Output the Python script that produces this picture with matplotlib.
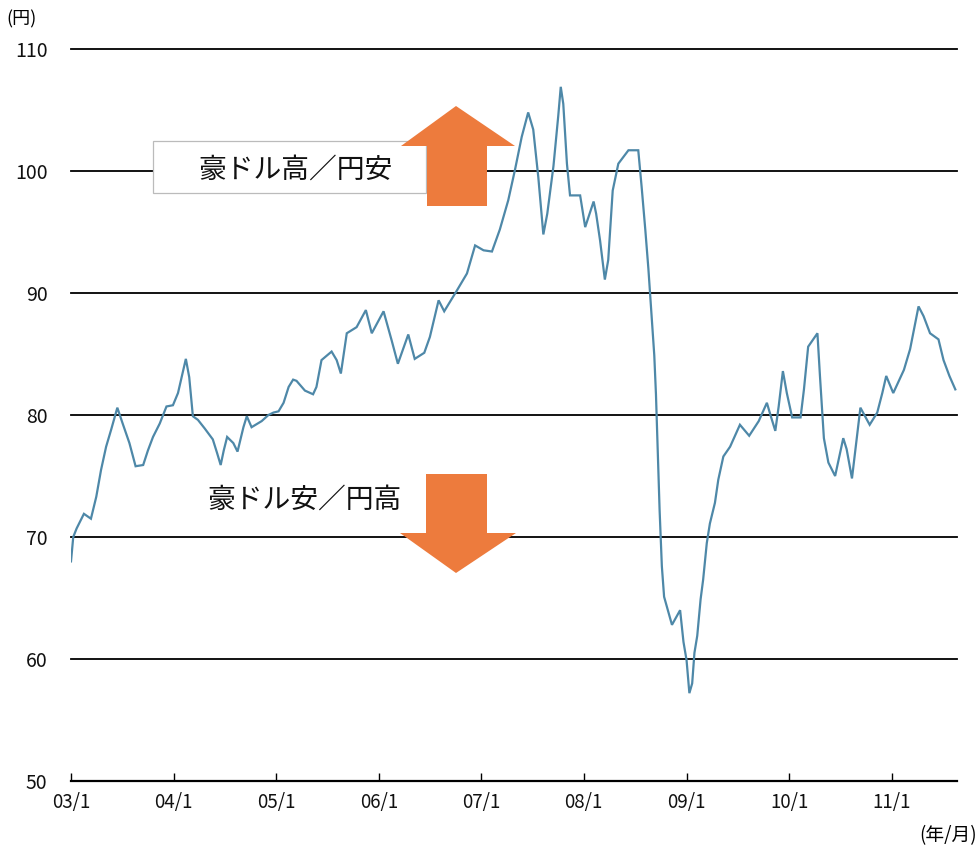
import matplotlib
matplotlib.use("Agg")
import matplotlib.pyplot as plt
import matplotlib.dates as mdates
from matplotlib.patches import Polygon, Rectangle
from matplotlib.ticker import FuncFormatter
import pandas as pd

plt.rcParams['font.family'] = ['Noto Sans CJK JP', 'DejaVu Sans']

# AUD/JPY exchange rate (yen per Australian dollar)
dates = [
    "2003-01-01", "2003-01-09", "2003-01-21", "2003-02-16", "2003-03-13", "2003-04-01",
    "2003-04-18", "2003-05-06", "2003-05-24", "2003-06-15", "2003-07-04", "2003-07-28",
    "2003-08-19", "2003-09-15", "2003-10-02", "2003-10-20", "2003-11-13", "2003-12-07",
    "2003-12-30", "2004-01-17", "2004-01-30", "2004-02-14", "2004-02-26", "2004-03-10",
    "2004-03-28", "2004-04-21", "2004-05-20", "2004-06-04", "2004-06-17", "2004-06-28",
    "2004-07-10", "2004-08-01", "2004-08-16", "2004-09-06", "2004-09-18", "2004-10-05",
    "2004-11-10", "2004-12-04", "2004-12-22", "2005-01-09", "2005-01-27", "2005-02-14",
    "2005-03-02", "2005-03-14", "2005-04-13", "2005-05-12", "2005-05-24", "2005-06-11",
    "2005-07-17", "2005-08-04", "2005-08-19", "2005-09-09", "2005-10-14", "2005-11-16",
    "2005-12-07", "2006-01-18", "2006-02-16", "2006-03-10", "2006-04-16", "2006-05-09",
    "2006-06-12", "2006-07-02", "2006-08-02", "2006-08-22", "2006-10-06", "2006-11-11",
    "2006-12-10", "2007-01-09", "2007-02-08", "2007-03-08", "2007-04-07", "2007-05-01",
    "2007-05-25", "2007-06-17", "2007-07-05", "2007-07-23", "2007-08-10", "2007-08-24",
    "2007-09-15", "2007-10-02", "2007-10-11", "2007-10-20", "2007-11-02", "2007-11-13",
    "2007-12-19", "2008-01-06", "2008-02-05", "2008-02-14", "2008-02-28", "2008-03-16",
    "2008-03-28", "2008-04-13", "2008-05-03", "2008-06-08", "2008-07-13", "2008-07-25",
    "2008-08-07", "2008-08-18", "2008-08-24", "2008-09-01", "2008-09-08", "2008-09-14",
    "2008-09-20", "2008-09-27", "2008-10-05", "2008-10-13", "2008-11-10", "2008-12-09",
    "2008-12-21", "2009-01-01", "2009-01-11", "2009-01-21", "2009-01-29", "2009-02-08",
    "2009-02-20", "2009-03-01", "2009-03-14", "2009-03-25", "2009-04-12", "2009-04-24",
    "2009-05-12", "2009-06-05", "2009-07-10", "2009-08-12", "2009-09-15", "2009-10-14",
    "2009-10-28", "2009-11-13", "2009-11-25", "2009-12-10", "2009-12-24", "2010-01-12",
    "2010-02-11", "2010-02-23", "2010-03-10", "2010-04-12", "2010-04-21", "2010-05-05",
    "2010-05-21", "2010-06-14", "2010-07-13", "2010-07-25", "2010-08-13", "2010-09-01",
    "2010-09-12", "2010-10-15", "2010-11-11", "2010-11-29", "2010-12-13", "2011-01-07",
    "2011-02-14", "2011-03-08", "2011-03-26", "2011-04-07", "2011-04-25", "2011-05-18",
    "2011-06-17", "2011-07-05", "2011-07-26", "2011-08-16",
]
rates = [
    68.0, 70.0, 70.7, 71.9, 71.5, 73.3,
    75.5, 77.4, 78.8, 80.6, 79.3, 77.7,
    75.8, 75.9, 77.1, 78.2, 79.3, 80.7,
    80.8, 81.8, 83.1, 84.6, 83.1, 79.9,
    79.6, 78.9, 78.0, 76.9, 75.9, 77.1,
    78.2, 77.7, 77.0, 79.0, 79.9, 79.0,
    79.5, 80.0, 80.2, 80.3, 81.0, 82.3,
    82.9, 82.8, 82.0, 81.7, 82.3, 84.5,
    85.2, 84.5, 83.4, 86.7, 87.2, 88.6,
    86.7, 88.5, 86.1, 84.2, 86.6, 84.6,
    85.1, 86.4, 89.4, 88.5, 90.2, 91.6,
    93.9, 93.5, 93.4, 95.2, 97.6, 100.1,
    102.8, 104.8, 103.4, 99.5, 94.8, 96.5,
    100.4, 104.5, 106.9, 105.5, 100.6, 98.0,
    98.0, 95.4, 97.5, 96.5, 94.3, 91.1,
    92.7, 98.4, 100.6, 101.7, 101.7, 98.7,
    95.2, 92.0, 90.0, 87.4, 84.9, 81.7,
    77.2, 72.2, 67.6, 65.1, 62.8, 64.0,
    61.4, 59.9, 57.2, 58.0, 60.5, 61.9,
    64.9, 66.5, 69.5, 71.1, 72.8, 74.7,
    76.6, 77.4, 79.2, 78.3, 79.5, 81.0,
    79.9, 78.7, 80.7, 83.6, 81.8, 79.8,
    79.8, 82.1, 85.6, 86.7, 83.2, 78.1,
    76.1, 75.0, 78.1, 77.2, 74.8, 78.5,
    80.6, 79.2, 80.2, 81.8, 83.2, 81.8,
    83.7, 85.4, 87.5, 88.9, 88.1, 86.7,
    86.2, 84.5, 83.2, 82.1,
]

year_ticks = [f"{y}-01-01" for y in range(2003, 2012)]
y_ticks = [50, 60, 70, 80, 90, 100, 110]

up_label = "豪ドル高／円安"
down_label = "豪ドル安／円高"

W, H = 979, 850
fig = plt.figure(figsize=(W / 100, H / 100), dpi=100)
ax = fig.add_axes([71 / W, 1 - 781 / H, (957 - 71) / W, (781 - 49) / H])

x = pd.to_datetime(dates)
ax.plot(x, rates, color="#4E88A8", lw=1.6, zorder=3, solid_joinstyle="miter")

ax.set_ylim(50, 110)
ax.set_xlim(pd.Timestamp("2003-01-01"), pd.Timestamp("2011-08-22"))

# horizontal reference lines
for v in y_ticks[1:]:
    ax.axhline(v, color="black", lw=1.3, zorder=1, clip_on=False)

ax.set_yticks(y_ticks)
ax.tick_params(axis="y", length=0, pad=17, labelsize=14, labelcolor="#111111")

ax.set_xticks(pd.to_datetime(year_ticks))
ax.xaxis.set_major_formatter(FuncFormatter(
    lambda v, p: f"{mdates.num2date(v).year % 100:02d}/{mdates.num2date(v).month}"))
ax.tick_params(axis="x", direction="in", length=6, width=1.0, pad=8,
               labelsize=13.5, labelcolor="#111111")

for s in ("left", "right", "top"):
    ax.spines[s].set_visible(False)
ax.spines["bottom"].set_linewidth(1.6)
ax.spines["bottom"].set_zorder(4)

fig.text(6 / W, 1 - 19 / H, "(円)", fontsize=13, va="center", ha="left")
fig.text(977 / W, 1 - 836 / H, "(年/月)", fontsize=13.5, va="center", ha="right")

# annotation box with arrows, placed in figure pixel space
def px(pts):
    return [(a / W, 1 - b / H) for a, b in pts]

fig.patches.append(Rectangle((153 / W, 1 - 193 / H), (426 - 153) / W, (193 - 141) / H,
                             transform=fig.transFigure, facecolor="white",
                             edgecolor="#BBBBBB", lw=0.9, zorder=5))
fig.text(296 / W, 1 - 170 / H, up_label, fontsize=20, ha="center", va="center",
         color="#111111", zorder=6)
fig.text(305 / W, 1 - 500 / H, down_label, fontsize=20, ha="center", va="center",
         color="#111111", zorder=6)

orange = "#ED7B3D"
up_arrow = px([(427, 206), (427, 146), (401, 146), (456, 106), (515, 146),
               (487, 146), (487, 206)])
down_arrow = px([(426, 474), (487, 474), (487, 533), (516, 533), (456, 573),
                 (400, 533), (426, 533)])
for pts in (up_arrow, down_arrow):
    fig.patches.append(Polygon(pts, closed=True, transform=fig.transFigure,
                               facecolor=orange, edgecolor="none", zorder=7))

fig.savefig("out.png", dpi=100, facecolor="white")
